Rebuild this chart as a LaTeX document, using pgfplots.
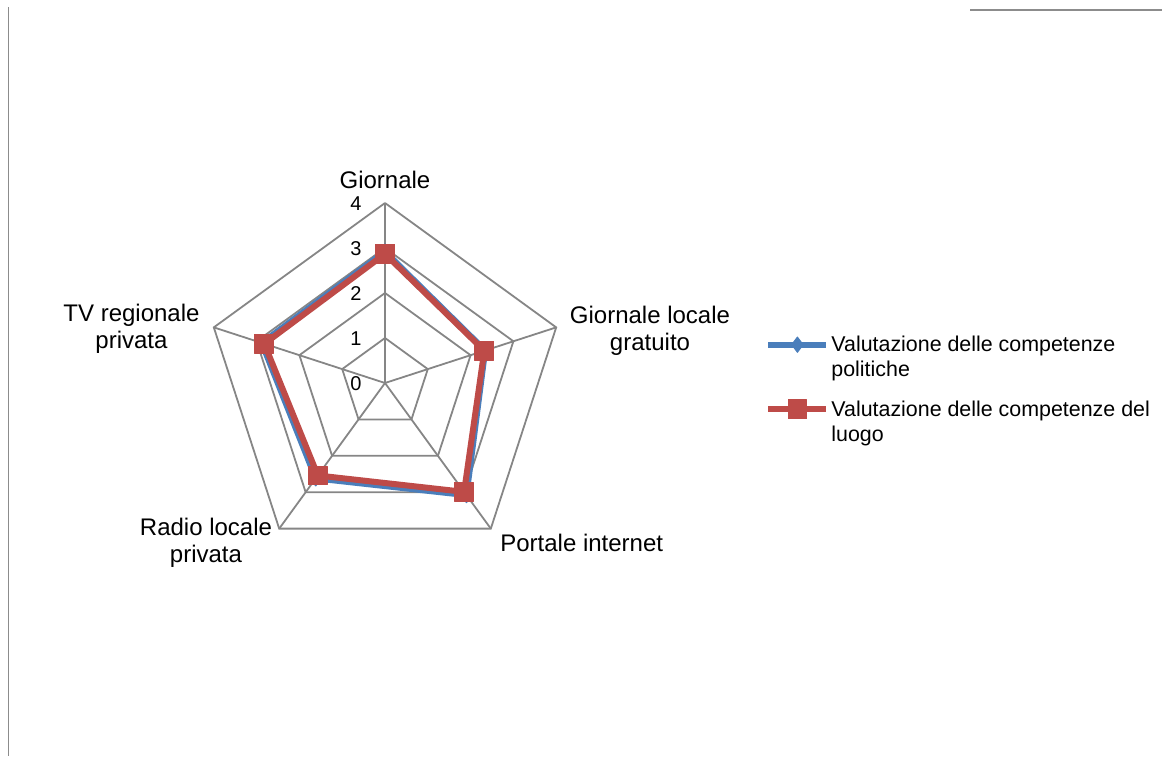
\documentclass[border=0pt]{standalone}
\usepackage{pgfplots}
\pgfplotsset{compat=1.18}
\usepackage{fontspec}
\setmainfont{Liberation Sans}
\definecolor{gridgray}{RGB}{134,134,134}
\definecolor{serblue}{RGB}{74,126,187}
\definecolor{serred}{RGB}{190,75,72}
\definecolor{framegray}{RGB}{140,140,140}
\newcommand\legA{\begin{tabular}[t]{@{}l@{}}Valutazione delle competenze\\politiche\end{tabular}}
\newcommand\legB{\begin{tabular}[t]{@{}l@{}}Valutazione delle competenze del\\luogo\end{tabular}}
\begin{document}
\begin{tikzpicture}
\useasboundingbox (0,0) rectangle (581pt,-378pt);
\begin{axis}[
  x=22.5pt, y=22.5pt,
  xmin=-8.556, xmax=17.267, ymin=-8.289, ymax=8.511,
  hide axis, clip=false,
  anchor=origin, at={(192.5pt,-191.5pt)},
  legend cell align=left,
  legend style={at={(0.6532,0.5661)}, anchor=north west, draw=none, fill=none,
    font=\fontsize{10.7}{12.5}\selectfont, row sep=20pt,
    nodes={inner sep=1pt}},
  legend image code/.code={
    \draw[mark repeat=2,mark phase=2,#1] plot coordinates {(0pt,0pt) (14.5pt,0pt) (29pt,0pt)};
  },
]
% pentagonal grid
\addplot[gridgray, line width=0.9pt, data cs=polar, forget plot] coordinates {(90,1)(18,1)(-54,1)(-126,1)(162,1)(90,1)};
\addplot[gridgray, line width=0.9pt, data cs=polar, forget plot] coordinates {(90,2)(18,2)(-54,2)(-126,2)(162,2)(90,2)};
\addplot[gridgray, line width=0.9pt, data cs=polar, forget plot] coordinates {(90,3)(18,3)(-54,3)(-126,3)(162,3)(90,3)};
\addplot[gridgray, line width=0.9pt, data cs=polar, forget plot] coordinates {(90,4)(18,4)(-54,4)(-126,4)(162,4)(90,4)};
% spokes
\addplot[gridgray, line width=0.9pt, data cs=polar, forget plot] coordinates {(90,0)(90,4)};
\addplot[gridgray, line width=0.9pt, data cs=polar, forget plot] coordinates {(18,0)(18,4)};
\addplot[gridgray, line width=0.9pt, data cs=polar, forget plot] coordinates {(-54,0)(-54,4)};
\addplot[gridgray, line width=0.9pt, data cs=polar, forget plot] coordinates {(-126,0)(-126,4)};
\addplot[gridgray, line width=0.9pt, data cs=polar, forget plot] coordinates {(162,0)(162,4)};
% series
\addplot[serblue, line width=3pt, line join=round, mark=diamond*, mark size=3.8pt,
  mark options={solid, fill=serblue, line width=0.5pt}, data cs=polar]
  coordinates {(90,2.92)(18,2.34)(-54,3.08)(-126,2.62)(162,2.88)(90,2.92)};
\addlegendentry{\legA}
\addplot[serred, line width=3pt, line join=round, mark=square*, mark size=4.7pt,
  mark options={solid, fill=serred, line width=0.5pt}, data cs=polar]
  coordinates {(90,2.87)(18,2.32)(-54,2.99)(-126,2.54)(162,2.82)(90,2.87)};
\addlegendentry{\legB}
\end{axis}
\begin{scope}[x=0.5pt,y=-0.5pt]
\draw[framegray, line width=0.75pt] (8.5,7) -- (8.5,756);
\draw[framegray, line width=0.75pt] (970,10) -- (1162,10);
\begin{scope}[every node/.style={font=\fontsize{12}{13.5}\selectfont, anchor=base, inner sep=0pt}]
\node at (385,188) {Giornale};
\node at (650,323) {Giornale locale};
\node at (650,350) {gratuito};
\node at (581.7,551.7) {Portale internet};
\node at (206,535.7) {Radio locale};
\node at (206,562) {privata};
\node at (131.5,321) {TV regionale};
\node at (131.5,348) {privata};
\end{scope}
\begin{scope}[every node/.style={font=\fontsize{10}{12}\selectfont, anchor=base, inner sep=0pt}]
\node at (356,210) {4};
\node at (356,255) {3};
\node at (356,300) {2};
\node at (356,345) {1};
\node at (356,390) {0};
\end{scope}
\end{scope}
\end{tikzpicture}
\end{document}
